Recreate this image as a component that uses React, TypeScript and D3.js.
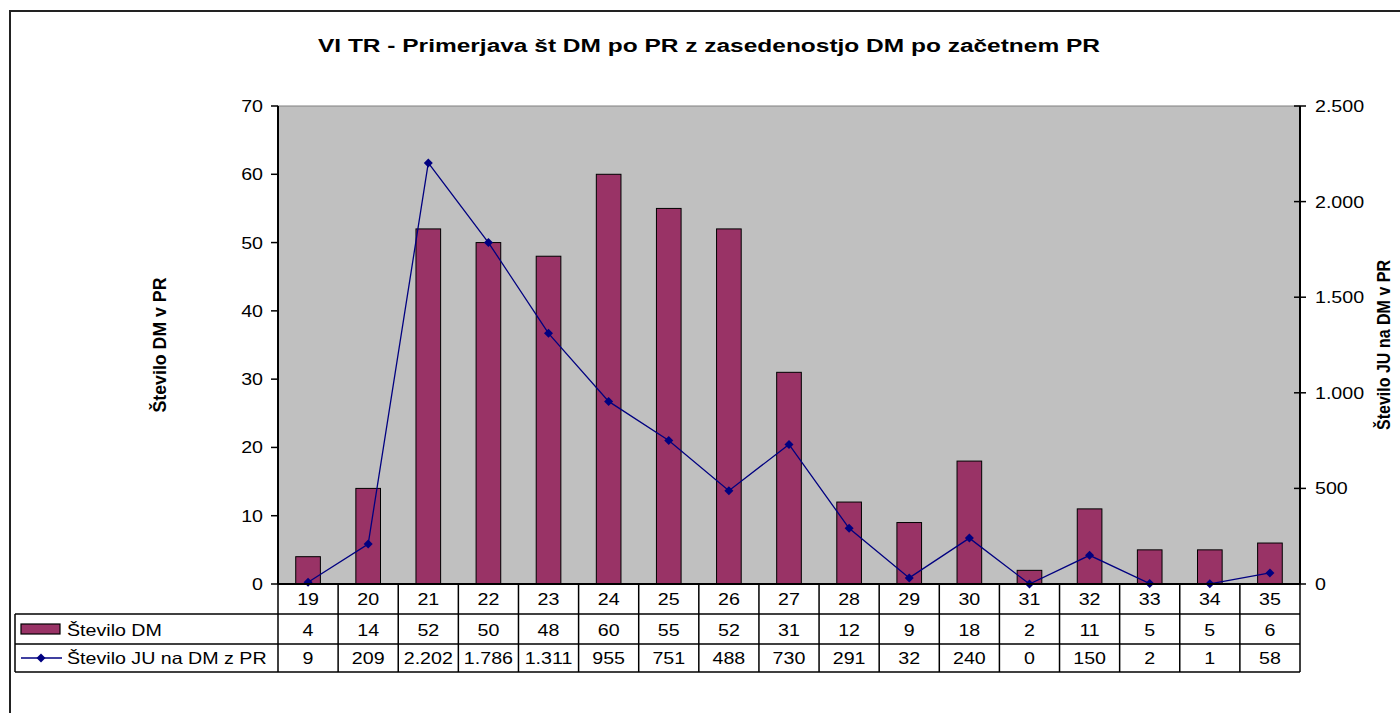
import React from 'react';
import * as d3 from 'd3';

const categories = ['19', '20', '21', '22', '23', '24', '25', '26', '27', '28', '29', '30', '31', '32', '33', '34', '35'];
const steviloDM = [4, 14, 52, 50, 48, 60, 55, 52, 31, 12, 9, 18, 2, 11, 5, 5, 6];
const steviloJU = [9, 209, 2202, 1786, 1311, 955, 751, 488, 730, 291, 32, 240, 0, 150, 2, 1, 58];
const leftTicks = [0, 10, 20, 30, 40, 50, 60, 70];
const rightTicks = [0, 500, 1000, 1500, 2000, 2500];

const seriesNames = ['Število DM', 'Število JU na DM z PR'];
const title = 'VI TR - Primerjava št DM po PR z zasedenostjo DM po začetnem PR';

const W = 1400;
const H = 713;
const plot = { left: 278, right: 1300, top: 106, bottom: 584 };
const rowH = [30, 30, 28];
const tableLeft = 15;
const font = 'Liberation Sans, Arial, sans-serif';
const barColor = '#993366';
const lineColor = '#000080';
const stretch = 1.19;

const fmt = (v: number) => d3.format(',')(v).replace(/,/g, '.');

// text drawn a bit wider than the font, like the source rendering
const T = ({ x, y, anchor = 'middle', children }: { x: number; y: number; anchor?: string; children: React.ReactNode }) => (
  <text transform={`translate(${x},${y}) scale(${stretch},1)`} textAnchor={anchor} fontFamily={font} fontSize={16.5}>{children}</text>
);

export default function App() {
  const x = d3.scaleBand().domain(categories).range([plot.left, plot.right]).paddingInner(0).paddingOuter(0);
  const yL = d3.scaleLinear().domain([0, 70]).range([plot.bottom, plot.top]);
  const yR = d3.scaleLinear().domain([0, 2500]).range([plot.bottom, plot.top]);
  const bw = x.bandwidth();
  const barW = bw * 0.41;
  const cx = (c: string) => (x(c) as number) + bw / 2;

  const line = d3.line<number>()
    .x((_, i) => cx(categories[i]))
    .y(d => yR(d));

  const rowTop = [plot.bottom, plot.bottom + rowH[0], plot.bottom + rowH[0] + rowH[1]];
  const tableBottom = rowTop[2] + rowH[2];
  const diamond = (px: number, py: number, s = 4.5) =>
    `M${px},${py - s}L${px + s},${py}L${px},${py + s}L${px - s},${py}Z`;

  return (
    <svg width={W} height={H} style={{ display: 'block', position: 'absolute', left: 0, top: 0 }}>
      <rect x={0} y={0} width={W} height={H} fill="#fff" />
      <rect x={10} y={11} width={W + 20} height={H + 20} fill="none" stroke="#222" strokeWidth={2} />
      <text x={709} y={52} textAnchor="middle" fontFamily={font} fontWeight="bold" fontSize={18} textLength={782} lengthAdjust="spacingAndGlyphs">{title}</text>

      {/* plot area */}
      <rect x={plot.left} y={plot.top} width={plot.right - plot.left} height={plot.bottom - plot.top} fill="#c0c0c0" stroke="#808080" strokeWidth={1} />

      {steviloDM.map((v, i) => (
        <rect key={i} x={cx(categories[i]) - barW / 2} y={yL(v)} width={barW} height={plot.bottom - yL(v)}
          fill={barColor} stroke="#000" strokeWidth={1} />
      ))}

      <path d={line(steviloJU) || ''} fill="none" stroke={lineColor} strokeWidth={1.3} />
      {steviloJU.map((v, i) => (
        <path key={i} d={diamond(cx(categories[i]), yR(v))} fill={lineColor} />
      ))}

      {/* left axis */}
      <line x1={plot.left} x2={plot.left} y1={plot.top} y2={plot.bottom} stroke="#000" strokeWidth={2} />
      {leftTicks.map(t => (
        <g key={t}>
          <line x1={plot.left - 7} x2={plot.left} y1={yL(t)} y2={yL(t)} stroke="#000" strokeWidth={1.5} />
          <T x={plot.left - 15} y={yL(t) + 6} anchor="end">{t}</T>
        </g>
      ))}
      <text transform={`translate(166,${(plot.top + plot.bottom) / 2}) rotate(-90)`} textAnchor="middle"
        fontFamily={font} fontWeight="bold" fontSize={18} textLength={135} lengthAdjust="spacingAndGlyphs">Število DM v PR</text>

      {/* right axis */}
      <line x1={plot.right} x2={plot.right} y1={plot.top} y2={plot.bottom} stroke="#000" strokeWidth={2} />
      {rightTicks.map(t => (
        <g key={t}>
          <line x1={plot.right - 6} x2={plot.right + 6} y1={yR(t)} y2={yR(t)} stroke="#000" strokeWidth={1.5} />
          <T x={plot.right + 15} y={yR(t) + 6} anchor="start">{fmt(t)}</T>
        </g>
      ))}
      <text transform={`translate(1390,${(plot.top + plot.bottom) / 2}) rotate(-90)`} textAnchor="middle"
        fontFamily={font} fontWeight="bold" fontSize={18} textLength={170} lengthAdjust="spacingAndGlyphs">Število JU na DM v PR</text>

      {/* x axis */}
      <line x1={plot.left} x2={plot.right} y1={plot.bottom} y2={plot.bottom} stroke="#000" strokeWidth={2} />

      {/* data table */}
      <line x1={tableLeft} x2={plot.right} y1={rowTop[1]} y2={rowTop[1]} stroke="#000" strokeWidth={1.5} />
      <line x1={tableLeft} x2={plot.right} y1={rowTop[2]} y2={rowTop[2]} stroke="#000" strokeWidth={1.5} />
      <line x1={tableLeft} x2={plot.right} y1={tableBottom} y2={tableBottom} stroke="#000" strokeWidth={1.5} />
      <line x1={tableLeft} x2={tableLeft} y1={rowTop[1]} y2={tableBottom} stroke="#000" strokeWidth={1.5} />
      {categories.map(c => (
        <line key={c} x1={x(c) as number} x2={x(c) as number} y1={plot.bottom} y2={tableBottom} stroke="#000" strokeWidth={1.5} />
      ))}
      <line x1={plot.right} x2={plot.right} y1={plot.bottom} y2={tableBottom} stroke="#000" strokeWidth={1.5} />

      {categories.map((c, i) => (
        <g key={c}>
          <T x={cx(c)} y={rowTop[0] + 21}>{c}</T>
          <T x={cx(c)} y={rowTop[1] + 22}>{steviloDM[i]}</T>
          <T x={cx(c)} y={rowTop[2] + 20}>{fmt(steviloJU[i])}</T>
        </g>
      ))}

      {/* legend keys */}
      <rect x={21} y={rowTop[1] + 10} width={39} height={10} fill={barColor} stroke="#000" strokeWidth={1.2} />
      <T x={67} y={rowTop[1] + 22} anchor="start">{seriesNames[0]}</T>
      <line x1={21} x2={62} y1={rowTop[2] + 14} y2={rowTop[2] + 14} stroke={lineColor} strokeWidth={1.3} />
      <path d={diamond(41, rowTop[2] + 14)} fill={lineColor} />
      <T x={67} y={rowTop[2] + 20} anchor="start">{seriesNames[1]}</T>
    </svg>
  );
}
